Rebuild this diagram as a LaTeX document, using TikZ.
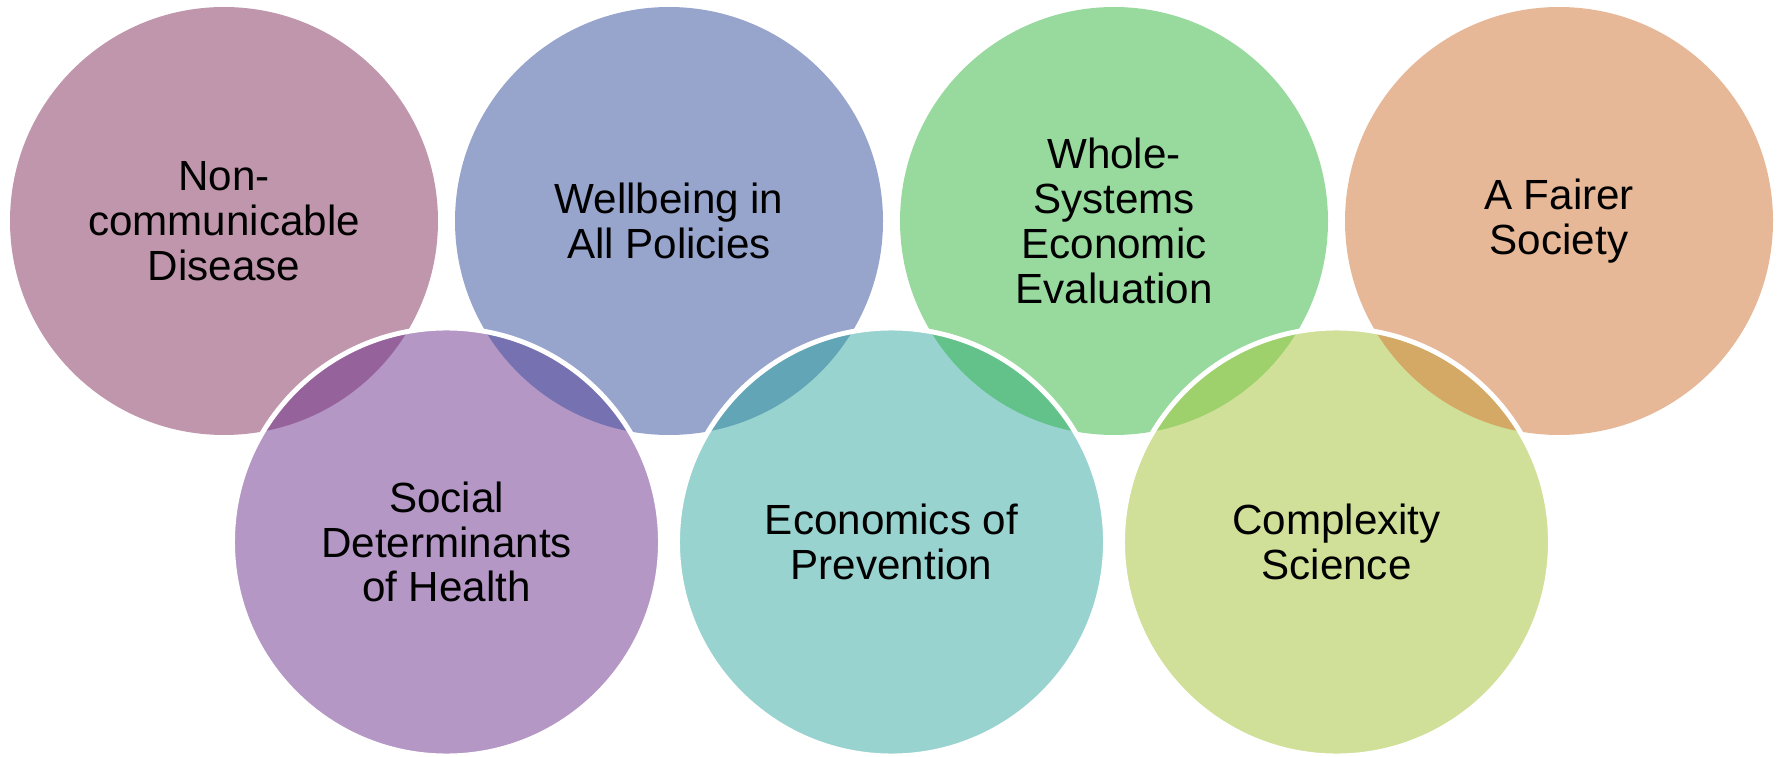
\documentclass[tikz,border=0pt]{standalone}
\usepackage{fontspec}
\setmainfont{Liberation Sans}
\usepackage{xcolor}
\usepackage{tikz}
\definecolor{ncd}{HTML}{C096AC}
\definecolor{wiap}{HTML}{97A5CD}
\definecolor{wsee}{HTML}{98DA9E}
\definecolor{fair}{HTML}{E6B898}
\definecolor{sdoh}{HTML}{B497C5}
\definecolor{eop}{HTML}{98D3CF}
\definecolor{cplx}{HTML}{D0E099}
\definecolor{lensa}{HTML}{96629B}
\definecolor{lensb}{HTML}{7672B1}
\definecolor{lensc}{HTML}{62A5B6}
\definecolor{lensd}{HTML}{63C28A}
\definecolor{lense}{HTML}{9ED06C}
\definecolor{lensf}{HTML}{D3A965}
\tikzset{
  topc/.style={circle, minimum size=8.56cm, inner sep=0pt, align=center,
    font=\fontsize{24}{25.5}\selectfont},
  botc/.style={topc},
  rim/.style={draw=white, line width=2.8pt},
}

\begin{document}
\begin{tikzpicture}
  \def\r{4.28}
  \useasboundingbox (0,0) rectangle (35.62,15.12);
  \coordinate (A) at (4.48,10.70);
  \coordinate (B) at (13.38,10.70);
  \coordinate (C) at (22.28,10.70);
  \coordinate (D) at (31.18,10.70);
  \coordinate (E) at (8.93,4.28);
  \coordinate (F) at (17.83,4.28);
  \coordinate (G) at (26.73,4.28);

  % top row
  \node[topc, fill=ncd] (ncdc) at (A) {Non-\\communicable\\Disease};
  \node[topc, fill=wiap] (wiapc) at (B) {Wellbeing in\\All Policies};
  \node[topc, fill=wsee] (wseec) at (C) {Whole-\\Systems\\Economic\\Evaluation};
  \node[topc, fill=fair] (fairc) at (D) {A Fairer\\Society};

  % bottom row
  \node[botc, fill=sdoh] (sdohc) at (E) {Social\\Determinants\\of Health};
  \node[botc, fill=eop] (eopc) at (F) {Economics of\\Prevention};
  \node[botc, fill=cplx] (cplxc) at (G) {Complexity\\Science};

  % overlaps
  \begin{scope}
    \clip (E) circle (\r);
    \fill[lensa] (A) circle (\r);
    \fill[lensb] (B) circle (\r);
  \end{scope}
  \begin{scope}
    \clip (F) circle (\r);
    \fill[lensc] (B) circle (\r);
    \fill[lensd] (C) circle (\r);
  \end{scope}
  \begin{scope}
    \clip (G) circle (\r);
    \fill[lense] (C) circle (\r);
    \fill[lensf] (D) circle (\r);
  \end{scope}

  \foreach \c in {E,F,G}
    \draw[rim] (\c) circle (\r);
\end{tikzpicture}
\end{document}
